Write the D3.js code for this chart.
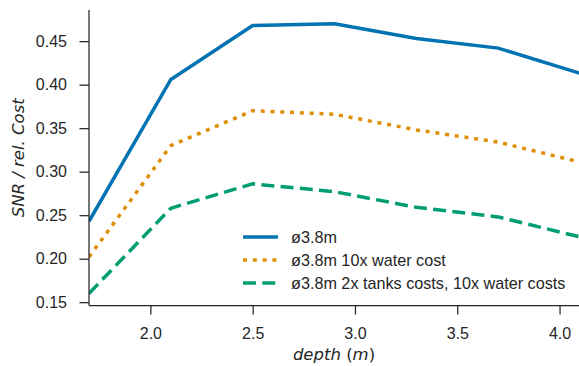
<!DOCTYPE html>
<meta charset="utf-8">
<style>
  body { margin: 0; background: #fff; }
  .tick text { font-family: "Liberation Sans", Arial, sans-serif; font-size: 16px; fill: #262626; }
  .axis path, .axis line { stroke: #262626; stroke-width: 1.25px; }
  .label { font-family: "DejaVu Sans", sans-serif; font-size: 16.5px; fill: #262626; }
  .legend text { font-family: "Liberation Sans", Arial, sans-serif; font-size: 16.2px; fill: #262626; }
</style>
<body>
<svg width="579" height="366"></svg>
<script src="https://d3js.org/d3.v7.min.js"></script>
<script>
// depth in metres
var depth = [1.7, 2.1, 2.5, 2.9, 3.3, 3.7, 4.1];

var snrBase     = [0.243, 0.406, 0.468, 0.470, 0.453, 0.442, 0.413];
var snrWater    = [0.202, 0.330, 0.370, 0.366, 0.348, 0.334, 0.311];
var snrTanks    = [0.160, 0.258, 0.286, 0.277, 0.259, 0.248, 0.225];

var seriesNames = ["ø3.8m", "ø3.8m 10x water cost", "ø3.8m 2x tanks costs, 10x water costs"];
var xTicks = [2.0, 2.5, 3.0, 3.5, 4.0];
var yTicks = [0.15, 0.20, 0.25, 0.30, 0.35, 0.40, 0.45];

var series = [
  {name: seriesNames[0], values: snrBase,  color: "#0173b2", dash: null},
  {name: seriesNames[1], values: snrWater, color: "#de8f05", dash: "4,5.8"},
  {name: seriesNames[2], values: snrTanks, color: "#029e73", dash: "13,6.3"}
];

var svg = d3.select("svg"),
    mLeft = 89, mRight = 580, mTop = 10, mBottom = 305.5;

var x = d3.scaleLinear().domain([1.7, 4.1]).range([mLeft, mRight]);
var y = d3.scaleLinear().domain([0.1462, 0.4858]).range([mBottom, mTop]);

svg.append("defs").append("clipPath").attr("id", "clip")
   .append("rect").attr("x", mLeft).attr("y", mTop)
   .attr("width", mRight - mLeft).attr("height", mBottom - mTop);

var line = d3.line()
    .x(function(d, i) { return x(depth[i]); })
    .y(function(d) { return y(d); });

svg.append("g").attr("clip-path", "url(#clip)")
  .selectAll("path")
  .data(series)
  .enter().append("path")
    .attr("d", function(d) { return line(d.values); })
    .attr("fill", "none")
    .attr("stroke", function(d) { return d.color; })
    .attr("stroke-width", 3.5)
    .attr("stroke-dasharray", function(d) { return d.dash; });

var xAxis = svg.append("g").attr("class", "axis")
    .attr("transform", "translate(0," + mBottom + ")")
    .call(d3.axisBottom(x).tickValues(xTicks).tickFormat(d3.format(".1f")).tickSizeOuter(0).tickSize(9).tickPadding(13));
xAxis.select(".domain").attr("d", "M" + mLeft + ",0H" + mRight);

var yAxis = svg.append("g").attr("class", "axis")
    .attr("transform", "translate(" + mLeft + ",0)")
    .call(d3.axisLeft(y).tickValues(yTicks).tickFormat(d3.format(".2f")).tickSizeOuter(0).tickSize(9.5).tickPadding(12.5));
yAxis.select(".domain").attr("d", "M0," + mTop + "V" + mBottom);

var xl = svg.append("text").attr("class", "label")
    .attr("x", 334).attr("y", 360)
    .attr("text-anchor", "middle");
xl.append("tspan").attr("font-style", "italic").text("depth");
xl.append("tspan").text(" (");
xl.append("tspan").attr("font-style", "italic").text("m");
xl.append("tspan").text(")");

svg.append("text").attr("class", "label")
    .attr("font-style", "italic")
    .attr("transform", "translate(24," + (mTop + mBottom) / 2 + ") rotate(-90)")
    .attr("text-anchor", "middle")
    .text("SNR / rel.  Cost");

var legend = svg.append("g").attr("class", "legend")
    .selectAll("g")
    .data(series)
    .enter().append("g")
    .attr("transform", function(d, i) { return "translate(243," + (237 + i * 23) + ")"; });

legend.append("line")
    .attr("x1", 0).attr("x2", 35)
    .attr("stroke", function(d) { return d.color; })
    .attr("stroke-width", 3.5)
    .attr("stroke-dasharray", function(d) { return d.dash; });

legend.append("text")
    .attr("x", 48).attr("y", 5.8)
    .text(function(d) { return d.name; });
</script>
</body>
